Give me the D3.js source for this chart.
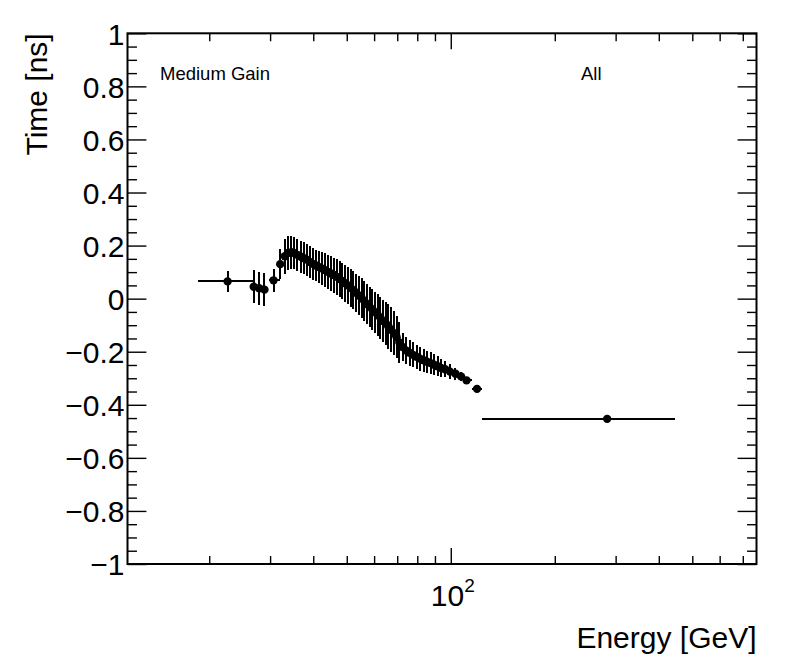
<!DOCTYPE html>
<html>
<head>
<meta charset="utf-8">
<script src="https://cdn.jsdelivr.net/npm/d3@7"></script>
<style>
  body { margin: 0; background: #fff; }
  svg text { font-family: "Liberation Sans", Arial, Helvetica, sans-serif; fill: #000; }
</style>
</head>
<body>
<script>
// Energy bin centres [GeV]
const energy = [
  22.6, 26.9, 27.9, 28.9, 30.7, 32.1,
  33.1, 33.8, 34.6, 35.2, 36.0, 36.8, 37.6, 38.3, 39.1, 39.9,
  40.7, 41.5, 42.3, 43.2, 44.1, 45.0, 45.9, 46.8, 47.7,
  48.6, 49.5, 50.4, 51.3, 52.3, 53.2, 54.2, 55.2, 56.2, 57.2, 58.2,
  59.3, 60.4, 61.5, 62.6, 63.7, 64.9, 66.0, 67.2, 68.5, 69.7, 71.0,
  72.5, 74.2, 76.0, 77.8, 79.6, 81.5, 83.4, 85.4, 87.4, 89.5, 91.6, 93.8,
  96.3, 99.5, 103.2, 107.1, 111.1, 119.1,
  283.5
];

// Mean time [ns]
const time = [
  0.065, 0.045, 0.039, 0.034, 0.069, 0.130,
  0.160, 0.172, 0.175, 0.172, 0.165, 0.158, 0.152, 0.147, 0.138, 0.131,
  0.125, 0.119, 0.114, 0.108, 0.101, 0.095, 0.089, 0.082, 0.074,
  0.066, 0.058, 0.050, 0.041, 0.032, 0.022, 0.012, 0.002, -0.009, -0.020, -0.030,
  -0.041, -0.051, -0.062, -0.073, -0.084, -0.094, -0.105, -0.117, -0.130, -0.145, -0.165,
  -0.182, -0.195, -0.204, -0.212, -0.219, -0.226, -0.232, -0.238, -0.243, -0.249, -0.255, -0.261,
  -0.266, -0.275, -0.283, -0.293, -0.308, -0.340,
  -0.453
];

// Error on the mean [ns]
const timeErr = [
  0.040, 0.062, 0.062, 0.062, 0.043, 0.057,
  0.066, 0.064, 0.062, 0.062, 0.061, 0.060, 0.060, 0.060, 0.060, 0.060,
  0.060, 0.061, 0.062, 0.063, 0.064, 0.065, 0.066, 0.067, 0.068,
  0.069, 0.070, 0.070, 0.071, 0.072, 0.072, 0.073, 0.074, 0.074, 0.075, 0.075,
  0.076, 0.077, 0.078, 0.079, 0.080, 0.082, 0.084, 0.085, 0.083, 0.080, 0.078,
  0.052, 0.050, 0.049, 0.047, 0.046, 0.045, 0.044, 0.042, 0.041, 0.039, 0.037, 0.035,
  0.031, 0.027, 0.022, 0.018, 0.014, 0.008,
  0.004
];

// Bins whose width shows as a horizontal bar: point index, low and high edge [GeV]
const wideIndex = [0, 4, 63, 64, 65];
const wideLo = [18.6, 29.7, 109.0, 115.0, 123.4];
const wideHi = [26.8, 32.1, 115.0, 123.4, 445.7];

const xRange = [11.6, 767];
const yRange = [-1, 1];
const xMajorTicks = [100];
const xMinorTicks = [20, 30, 40, 50, 60, 70, 80, 90, 200, 300, 400, 500, 600, 700];
const yMajorTicks = [-1, -0.8, -0.6, -0.4, -0.2, 0, 0.2, 0.4, 0.6, 0.8, 1];

const width = 796, height = 672;
const frame = { left: 127.5, right: 756.5, top: 33.3, bottom: 564 };

const x = d3.scaleLog().domain(xRange).range([frame.left, frame.right]);
const y = d3.scaleLinear().domain(yRange).range([frame.bottom, frame.top]);

const svg = d3.select("body").append("svg")
    .attr("width", width)
    .attr("height", height)
    .attr("viewBox", `0 0 ${width} ${height}`);

// ticks point inwards, as in ROOT
const xTickLen = 15.9, yTickLen = 18.9;
const yMinorTicks = d3.range(-20, 21).map(k => k * 0.05).filter(v => Math.abs(Math.round(v * 100) % 20) !== 0);

function styleAxis(g) {
    g.attr("font-size", null).attr("font-family", null);
    g.select(".domain").remove();
    g.selectAll("line").attr("stroke", "#000").attr("stroke-width", 1.4);
}

svg.append("g").attr("transform", `translate(0,${frame.bottom})`)
    .call(d3.axisBottom(x).tickValues(xMajorTicks).tickSize(-xTickLen).tickFormat(""))
    .call(styleAxis);
svg.append("g").attr("transform", `translate(0,${frame.bottom})`)
    .call(d3.axisBottom(x).tickValues(xMinorTicks).tickSize(-xTickLen / 2).tickFormat(""))
    .call(styleAxis);
svg.append("g").attr("transform", `translate(0,${frame.top})`)
    .call(d3.axisTop(x).tickValues(xMajorTicks).tickSize(-xTickLen).tickFormat(""))
    .call(styleAxis);
svg.append("g").attr("transform", `translate(0,${frame.top})`)
    .call(d3.axisTop(x).tickValues(xMinorTicks).tickSize(-xTickLen / 2).tickFormat(""))
    .call(styleAxis);

const yAxisLeft = svg.append("g").attr("transform", `translate(${frame.left},0)`)
    .call(d3.axisLeft(y).tickValues(yMajorTicks).tickSize(-yTickLen).tickPadding(3)
        .tickFormat(d3.format("~g")))
    .call(styleAxis);
yAxisLeft.selectAll("text").attr("font-size", 30).attr("dy", "0.36em");

svg.append("g").attr("transform", `translate(${frame.left},0)`)
    .call(d3.axisLeft(y).tickValues(yMinorTicks).tickSize(-yTickLen / 2).tickFormat(""))
    .call(styleAxis);
svg.append("g").attr("transform", `translate(${frame.right},0)`)
    .call(d3.axisRight(y).tickValues(yMajorTicks).tickSize(-yTickLen).tickFormat(""))
    .call(styleAxis);
svg.append("g").attr("transform", `translate(${frame.right},0)`)
    .call(d3.axisRight(y).tickValues(yMinorTicks).tickSize(-yTickLen / 2).tickFormat(""))
    .call(styleAxis);

// frame
svg.append("rect")
    .attr("x", frame.left).attr("y", frame.top)
    .attr("width", frame.right - frame.left).attr("height", frame.bottom - frame.top)
    .attr("fill", "none").attr("stroke", "#000").attr("stroke-width", 2);

// x label 10^2
const xLab = svg.append("text")
    .attr("x", x(100) + 2).attr("y", 606)
    .attr("text-anchor", "middle").attr("font-size", 30);
xLab.append("tspan").text("10");
xLab.append("tspan").attr("font-size", 19).attr("dy", -14).text("2");

// axis titles
svg.append("text")
    .attr("transform", `translate(46.5,${frame.top}) rotate(-90)`)
    .attr("text-anchor", "end").attr("font-size", 30)
    .text("Time [ns]");
svg.append("text")
    .attr("x", frame.right).attr("y", 648)
    .attr("text-anchor", "end").attr("font-size", 30)
    .text("Energy [GeV]");

// labels inside the frame
svg.append("text").attr("x", 160).attr("y", 80).attr("font-size", 18.5).text("Medium Gain");
svg.append("text").attr("x", 581).attr("y", 80).attr("font-size", 18.5).text("All");

// data
const points = energy.map((e, i) => ({ e, t: time[i], err: timeErr[i] }));
const marks = svg.append("g");

marks.selectAll("line.ey")
    .data(points)
    .join("line")
    .attr("class", "ey")
    .attr("x1", d => x(d.e)).attr("x2", d => x(d.e))
    .attr("y1", d => y(d.t - d.err)).attr("y2", d => y(d.t + d.err))
    .attr("stroke", "#000").attr("stroke-width", 2)
    .attr("shape-rendering", "crispEdges");

marks.selectAll("line.ex")
    .data(wideIndex)
    .join("line")
    .attr("class", "ex")
    .attr("x1", (d, k) => x(wideLo[k])).attr("x2", (d, k) => x(wideHi[k]))
    .attr("y1", d => y(time[d])).attr("y2", d => y(time[d]))
    .attr("stroke", "#000").attr("stroke-width", 2)
    .attr("shape-rendering", "crispEdges");

marks.selectAll("circle")
    .data(points)
    .join("circle")
    .attr("cx", d => x(d.e)).attr("cy", d => y(d.t))
    .attr("r", 4.2)
    .attr("fill", "#000");
</script>
</body>
</html>
